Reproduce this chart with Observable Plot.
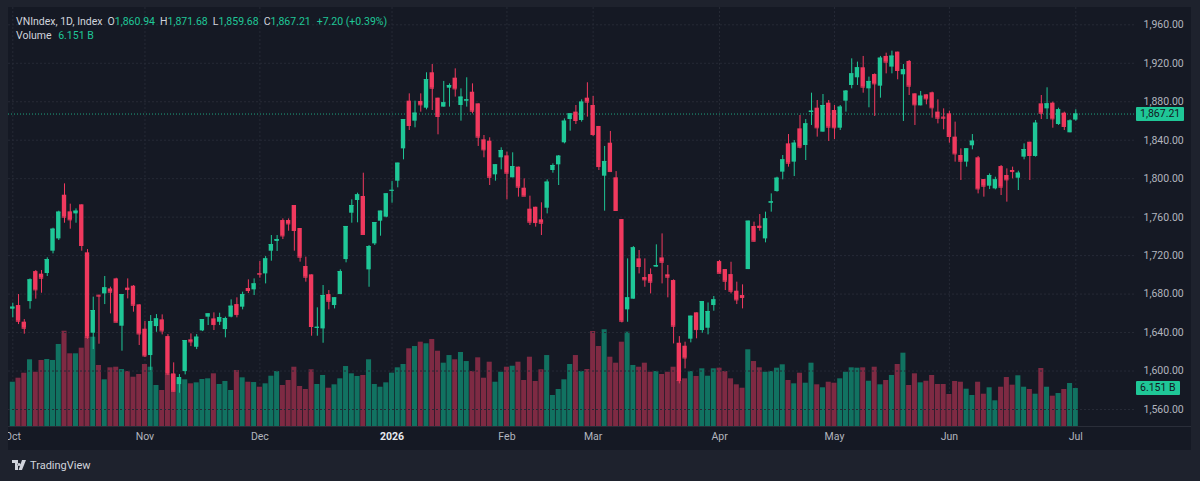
<!DOCTYPE html>
<html><head><meta charset="utf-8">
<script src="https://cdn.jsdelivr.net/npm/d3@7"></script>
<script src="https://cdn.jsdelivr.net/npm/@observablehq/plot@0.6"></script>
<style>
html,body{margin:0;padding:0;background:#1e222d;}
body{width:1200px;height:481px;overflow:hidden;position:relative;font-family:Roboto,"Liberation Sans",sans-serif;}
#panel{position:absolute;left:8px;top:7px;width:1183px;height:443px;background:#151924;overflow:hidden;}
#panel svg{position:absolute;left:0;top:0;}
#axisline{position:absolute;left:0;top:419px;width:1183px;height:1px;background:#2a2e39;}
#legend{position:absolute;left:8px;top:15px;font-size:10.5px;color:#d1d4dc;line-height:14px;white-space:nowrap;}
#legend .g{color:#1fc797;}
#legend .k{margin-left:5px;}
.box{position:absolute;font-size:10.5px;color:#131722;background:#1fc797;height:14px;line-height:14px;padding:0 4px;border-radius:1px;}
#logo{position:absolute;left:12px;top:459px;color:#d1d4dc;font-size:11px;display:flex;align-items:center;gap:4px;}
</style></head>
<body>
<div id="panel"><div id="axisline"></div></div>
<div id="legend"></div>
<div id="logo"><svg width="14" height="11" viewBox="0 0 14 11"><path d="M0 0h6v10H3V3H0z M7 3a1.5 1.5 0 1 0 0.01 0z M10 0h4l-4 10H6.6z" fill="#d1d4dc"/></svg><span>TradingView</span></div>
<script>
// ---------- data ----------
const MONTH_LABELS = ["Oct","Nov","Dec","2026","Feb","Mar","Apr","May","Jun","Jul"];
const MONTH_INDEX  = [0,23,43,66,86,101,123,143,163,185];
const PRICE_TICKS  = [1560,1600,1640,1680,1720,1760,1800,1840,1880,1920,1960];

const OPEN = [1664.3,1668.1,1650.8,1672.2,1703.4,1700.7,1701.4,1724.6,1737.4,1782.8,
1765.5,1763.4,1772.8,1722.9,1639.3,1678.8,1680.2,1685.4,1695.8,1646.6,
1686.2,1688.2,1668.8,1643.5,1616.1,1646.2,1653.2,1635.8,1597.0,1585.9,
1599.4,1632.4,1624.7,1641.7,1656.0,1654.2,1650.7,1643.1,1656.0,1669.1,
1666.4,1685.8,1684.4,1701.4,1701.0,1724.6,1734.7,1756.5,1756.5,1772.1,
1748.2,1708.7,1700.0,1644.5,1643.8,1679.5,1668.1,1679.5,1715.9,1764.1,
1777.3,1781.5,1705.2,1732.2,1755.8,1760.0,1787.2,1797.4,1831.0,1880.6,
1859.8,1880.3,1873.3,1910.1,1883.7,1874.4,1894.1,1904.5,1876.1,1880.6,
1889.9,1877.8,1840.4,1839.0,1804.0,1821.7,1823.7,1800.9,1812.0,1790.1,
1768.3,1770.3,1757.2,1769.3,1808.5,1814.4,1837.3,1861.5,1869.2,1860.5,
1883.7,1876.1,1854.3,1802.6,1836.9,1800.9,1757.5,1663.6,1674.7,1716.6,
1697.2,1700.3,1708.0,1717.6,1700.0,1694.1,1628.9,1625.8,1633.1,1660.5,
1642.1,1644.5,1668.1,1713.8,1705.5,1700.3,1683.0,1678.5,1705.5,1750.3,
1750.6,1737.4,1774.5,1786.6,1806.8,1836.2,1817.2,1851.8,1834.5,1868.8,
1873.3,1848.4,1878.5,1870.9,1852.5,1880.6,1896.9,1904.9,1915.3,1893.4,
1908.3,1896.2,1927.1,1916.0,1931.6,1908.0,1921.9,1888.2,1875.7,1887.2,
1889.3,1869.2,1864.0,1867.4,1843.2,1824.1,1817.2,1834.2,1821.7,1799.1,
1792.2,1789.4,1812.6,1803.3,1808.5,1800.5,1822.4,1837.9,1823.1,1877.8,
1872.6,1878.5,1856.3,1868.1,1847.7,1860.94];
const HIGH = [1670.5,1679.5,1653.5,1695.8,1704.5,1704.5,1717.7,1748.5,1766.2,1794.6,
1773.5,1768.6,1772.8,1726.3,1676.8,1678.9,1698.3,1687.2,1696.5,1679.5,
1695.8,1688.9,1669.0,1651.5,1657.7,1658.7,1658.4,1637.9,1608.5,1596.3,
1631.7,1638.6,1637.9,1653.5,1659.4,1660.5,1660.1,1656.0,1674.0,1676.1,
1682.0,1694.8,1695.8,1713.9,1719.0,1740.9,1740.9,1758.2,1758.2,1772.1,
1748.2,1718.4,1700.0,1665.7,1688.9,1683.7,1676.1,1705.2,1750.3,1778.0,
1784.9,1805.7,1730.5,1754.4,1766.2,1784.2,1797.0,1816.1,1861.5,1888.2,
1880.6,1888.2,1910.1,1918.7,1883.7,1901.1,1898.6,1914.2,1893.4,1904.9,
1898.6,1877.8,1844.9,1842.5,1814.4,1832.1,1827.6,1826.9,1812.0,1799.8,
1781.8,1770.3,1774.9,1798.8,1815.4,1824.1,1862.2,1867.4,1876.1,1882.0,
1899.7,1885.5,1854.3,1833.5,1849.1,1807.4,1757.5,1716.6,1729.4,1725.3,
1716.6,1706.2,1731.2,1742.6,1709.7,1694.8,1635.8,1630.0,1657.0,1660.5,
1672.2,1670.8,1677.5,1714.9,1705.5,1713.1,1692.4,1689.6,1755.8,1754.8,
1762.7,1765.2,1784.2,1801.5,1824.1,1845.9,1839.7,1865.7,1861.5,1888.9,
1881.3,1887.5,1881.3,1876.1,1876.1,1891.7,1924.6,1921.2,1927.1,1905.6,
1909.0,1927.1,1930.5,1932.6,1931.6,1918.7,1922.9,1888.2,1890.7,1887.2,
1890.0,1882.0,1872.6,1870.2,1858.8,1831.0,1831.0,1845.9,1823.1,1799.1,
1805.0,1801.5,1813.7,1810.2,1812.0,1807.8,1836.2,1837.9,1860.5,1886.5,
1894.5,1879.6,1873.3,1869.2,1861.2,1871.68];
const LOW = [1655.3,1648.3,1638.3,1664.3,1674.7,1680.9,1698.3,1721.8,1735.7,1753.7,
1747.5,1753.7,1724.6,1633.0,1622.3,1627.9,1669.1,1659.4,1650.0,1620.6,
1675.0,1661.2,1626.5,1614.0,1600.5,1640.3,1637.6,1595.3,1578.0,1576.9,
1596.0,1625.4,1622.3,1641.0,1647.3,1642.1,1647.3,1634.5,1655.3,1655.3,
1663.6,1680.6,1678.5,1696.5,1690.6,1714.2,1724.3,1736.7,1745.4,1724.6,
1713.2,1692.4,1636.2,1636.2,1628.9,1663.6,1664.6,1679.5,1712.5,1753.7,
1754.1,1742.0,1687.1,1730.5,1740.2,1759.3,1774.5,1790.5,1819.6,1850.1,
1852.9,1869.2,1871.6,1870.9,1845.6,1874.4,1874.4,1884.8,1859.8,1874.4,
1867.4,1833.5,1821.7,1792.9,1797.4,1809.2,1778.0,1800.9,1780.8,1781.8,
1751.3,1749.6,1740.9,1763.4,1805.7,1792.9,1836.2,1849.4,1856.3,1858.8,
1864.0,1843.9,1808.5,1766.2,1807.4,1766.9,1650.0,1650.7,1674.7,1701.0,
1687.1,1680.2,1708.0,1690.6,1676.1,1628.2,1586.6,1602.2,1629.3,1633.5,
1639.3,1637.6,1662.2,1701.0,1683.7,1680.2,1669.1,1664.6,1705.5,1734.0,
1745.4,1733.3,1765.2,1786.0,1798.8,1812.0,1802.2,1831.0,1818.9,1855.3,
1843.2,1848.4,1838.7,1840.7,1850.1,1869.2,1893.4,1896.9,1888.9,1873.7,
1864.7,1883.7,1909.0,1909.0,1902.8,1859.5,1886.5,1855.3,1875.7,1876.8,
1862.9,1857.0,1850.8,1836.9,1817.2,1798.1,1812.0,1830.0,1784.2,1780.8,
1788.7,1788.4,1782.5,1775.6,1799.8,1787.7,1819.6,1798.1,1822.4,1861.5,
1861.5,1852.5,1855.3,1850.1,1847.7,1859.68];
const CLOSE = [1666.4,1651.8,1644.5,1694.8,1684.4,1696.5,1715.9,1747.5,1765.2,1760.0,
1757.2,1766.2,1730.5,1635.2,1662.9,1677.9,1686.5,1682.0,1650.8,1679.5,
1684.7,1668.4,1638.6,1615.7,1651.5,1654.2,1641.7,1597.0,1579.0,1593.2,
1631.7,1630.3,1635.2,1653.5,1659.4,1648.3,1655.6,1654.6,1667.4,1658.7,
1679.5,1683.7,1690.6,1700.7,1716.6,1731.5,1736.7,1740.5,1753.0,1746.1,
1718.4,1697.6,1646.3,1645.5,1678.5,1672.6,1676.1,1703.4,1750.3,1772.1,
1783.2,1742.0,1729.4,1754.4,1766.2,1784.2,1787.9,1816.1,1861.5,1855.3,
1868.1,1876.8,1903.1,1894.1,1864.7,1878.9,1896.9,1893.4,1884.8,1882.0,
1870.2,1843.2,1830.0,1801.5,1814.4,1829.3,1805.7,1812.6,1791.2,1781.8,
1754.8,1754.4,1753.7,1796.4,1813.7,1823.4,1859.8,1867.4,1860.5,1879.6,
1879.6,1845.9,1812.6,1817.9,1807.4,1766.9,1651.8,1676.1,1728.1,1708.7,
1694.8,1692.4,1709.7,1713.1,1697.6,1646.6,1590.1,1613.6,1657.0,1643.1,
1672.2,1661.8,1674.0,1701.7,1693.4,1683.0,1674.0,1676.4,1755.8,1735.0,
1749.2,1758.2,1775.9,1800.5,1819.6,1816.1,1836.9,1832.8,1857.0,1870.2,
1852.9,1876.1,1853.6,1852.9,1874.4,1891.0,1909.0,1915.3,1895.2,1901.1,
1898.6,1925.3,1921.2,1927.4,1912.5,1913.2,1896.2,1876.8,1885.8,1883.0,
1873.7,1862.9,1862.9,1843.9,1825.8,1818.2,1831.0,1839.0,1789.4,1792.2,
1803.3,1798.8,1791.2,1798.8,1807.4,1805.7,1830.3,1824.1,1857.7,1868.1,
1877.8,1862.2,1871.6,1854.3,1860.01,1867.21];
const VOLUME = [7.17,7.82,8.63,10.80,8.79,10.69,10.85,10.69,13.28,15.43,
11.77,11.77,12.68,14.46,14.46,9.88,7.56,9.50,9.60,9.23,
8.90,7.98,8.42,10.04,9.60,6.64,5.83,8.42,8.42,7.72,
7.56,6.91,7.07,7.61,7.72,8.53,6.80,7.29,5.83,9.07,
7.88,7.17,7.12,6.36,6.91,8.14,8.90,6.64,7.45,9.60,
6.48,5.99,9.18,6.80,8.26,6.20,6.75,7.72,9.71,8.53,
8.10,8.26,10.80,6.80,6.36,7.07,8.63,9.50,10.04,12.58,
12.95,13.65,13.39,14.09,12.19,10.25,11.49,10.80,11.98,10.52,
8.90,11.12,7.82,10.41,7.17,8.79,9.60,9.76,10.41,7.45,
11.22,7.29,9.18,11.49,5.02,5.99,7.56,10.04,11.49,8.90,
9.23,15.38,12.95,15.66,11.22,10.25,13.65,15.27,9.88,9.60,
10.25,8.79,8.90,8.42,8.79,9.60,7.45,7.72,8.90,8.10,
9.34,8.14,9.34,9.44,8.90,7.72,6.75,6.20,12.42,10.52,
9.50,8.79,8.90,9.44,9.99,7.45,6.91,8.63,7.01,10.25,
6.75,6.27,7.17,7.01,7.72,8.79,9.50,9.44,9.50,7.33,
9.60,6.75,7.45,8.26,10.04,11.87,6.64,8.53,7.07,7.33,
8.26,6.80,6.80,5.18,7.29,7.17,6.04,5.02,7.17,5.23,
6.27,4.16,6.36,7.93,6.69,8.21,6.36,5.99,5.23,9.39,
6.36,4.91,5.34,5.99,6.96,6.151];

// ---------- styling ----------
const UP = "#1fc797", DOWN = "#f0395e";
const VUP = "#117261", VDOWN = "#7e2a43";
const GRID = "#262a36";
const W = 1183, H = 443;
const X = {type: "linear", domain: [0, 185], range: [4.3, 1067.3], axis: null};

const bars = OPEN.map((o, i) => ({i, o, h: HIGH[i], l: LOW[i], c: CLOSE[i], v: VOLUME[i], up: CLOSE[i] >= o}));
const ups = bars.filter(d => d.up), downs = bars.filter(d => !d.up);
const months = MONTH_LABELS.map((label, k) => ({label, i: MONTH_INDEX[k]}));
const common = {width: W, height: H, marginLeft: 0, marginTop: 0, marginRight: 56, marginBottom: 24,
  style: {background: "transparent", overflow: "visible", fontFamily: "Roboto, 'Liberation Sans', sans-serif"}};

// volume layer (bottom)
const volPlot = Plot.plot({
  ...common,
  x: X,
  y: {domain: [0, 15], range: [419, 419 - 15 / 0.1619], axis: null},
  marks: [
    Plot.ruleX(MONTH_INDEX, {x: d => d, stroke: GRID, strokeDasharray: "2,2"}),
    Plot.rect(ups, {x1: d => d.i - 0.44, x2: d => d.i + 0.44, y1: 0, y2: "v", fill: VUP}),
    Plot.rect(downs, {x1: d => d.i - 0.44, x2: d => d.i + 0.44, y1: 0, y2: "v", fill: VDOWN})
  ]
});

// candle layer (top)
const last = bars[bars.length - 1];
const prev = bars[bars.length - 2];
const pricePlot = Plot.plot({
  ...common,
  x: X,
  y: {domain: [1560, 1960], range: [402, 17.3], axis: null},
  marks: [
    Plot.ruleY(PRICE_TICKS, {y: d => d, stroke: GRID, strokeDasharray: "2,2"}),
    Plot.ruleY([last.c], {y: d => d, stroke: UP, strokeOpacity: 0.8, strokeDasharray: "1,2"}),
    Plot.ruleX(ups, {x: "i", y1: "l", y2: "h", stroke: UP, strokeWidth: 1}),
    Plot.ruleX(downs, {x: "i", y1: "l", y2: "h", stroke: DOWN, strokeWidth: 1}),
    Plot.rect(ups, {x1: d => d.i - 0.38, x2: d => d.i + 0.38, y1: "o", y2: "c", fill: UP}),
    Plot.rect(downs, {x1: d => d.i - 0.38, x2: d => d.i + 0.38, y1: "o", y2: "c", fill: DOWN}),
    Plot.ruleY(ups, {y: "c", x1: d => d.i - 0.38, x2: d => d.i + 0.38, stroke: UP}),
    Plot.ruleY(downs, {y: "c", x1: d => d.i - 0.38, x2: d => d.i + 0.38, stroke: DOWN}),
    Plot.axisY(PRICE_TICKS, {anchor: "right", tickSize: 0, tickPadding: 8, tickFormat: d3.format(",.2f"),
      fill: "#b2b5be", fontSize: 10.5, textAnchor: "start"}),
    Plot.text(months.filter(m => m.label !== "2026"), {x: "i", text: "label", frameAnchor: "bottom", dy: 13,
      fill: "#b2b5be", fontSize: 10.5}),
    Plot.text(months.filter(m => m.label === "2026"), {x: "i", text: "label", frameAnchor: "bottom", dy: 13,
      fill: "#e8eaf0", fontSize: 10.5, fontWeight: "bold"})
  ]
});

const panel = document.getElementById("panel");
panel.appendChild(volPlot);
panel.appendChild(pricePlot);

// price-axis label boxes, positioned through the plots' scales
const fmt = d3.format(",.2f");
const yP = pricePlot.scale("y"), yV = volPlot.scale("y");
const b1 = document.createElement("div");
b1.className = "box"; b1.textContent = fmt(last.c);
b1.style.left = "1128px"; b1.style.top = (yP.apply(last.c) - 7) + "px";
panel.appendChild(b1);
const b2 = document.createElement("div");
b2.className = "box"; b2.textContent = d3.format(".3f")(last.v) + " B";
b2.style.left = "1128px"; b2.style.top = (yV.apply(last.v) - 7) + "px";
panel.appendChild(b2);

// legend
const chg = last.c - prev.c, pct = chg / prev.c * 100;
const sgn = v => (v >= 0 ? "+" : "") + v.toFixed(2);
document.getElementById("legend").innerHTML =
  `<div style="padding-left:8px">VNIndex, 1D, Index<span class="k">O</span><span class="g">${fmt(last.o)}</span>` +
  `<span class="k">H</span><span class="g">${fmt(last.h)}</span>` +
  `<span class="k">L</span><span class="g">${fmt(last.l)}</span>` +
  `<span class="k">C</span><span class="g">${fmt(last.c)}</span>` +
  `<span class="g" style="margin-left:6px">${sgn(chg)} (${sgn(pct)}%)</span></div>` +
  `<div style="padding-left:8px">Volume <span class="g" style="margin-left:4px">${d3.format(".3f")(last.v)} B</span></div>`;
</script>
</body></html>
